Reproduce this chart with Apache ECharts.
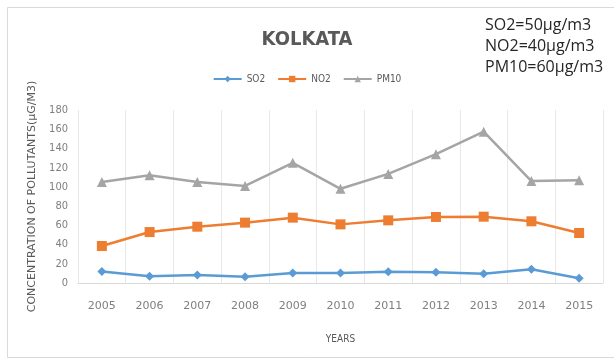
<!DOCTYPE html>
<html>
<head>
<meta charset="utf-8">
<script src="https://cdn.jsdelivr.net/npm/echarts@6/dist/echarts.min.js"></script>
<style>
  html, body { margin: 0; padding: 0; background: #fff; }
  #chart { width: 614px; height: 362px; }
</style>
</head>
<body>
<div id="chart"></div>
<script>
const years = ['2005', '2006', '2007', '2008', '2009', '2010', '2011', '2012', '2013', '2014', '2015']
const so2 = [12, 7, 8.3, 6.6, 10.4, 10.4, 11.8, 11.1, 9.7, 14.2, 5]
const no2 = [38.5, 53, 58.6, 62.8, 68, 61, 65.2, 68.7, 69, 64.2, 52]
const pm10 = [105, 112, 105, 101, 125, 98, 113.5, 134, 157.5, 106, 107]
const limits = ['SO2=50µg/m3', 'NO2=40µg/m3', 'PM10=60µg/m3']

const chart = echarts.init(document.getElementById('chart'))
chart.setOption({
  backgroundColor: '#ffffff',
  animation: false,
  title: {
    text: 'KOLKATA',
    left: 'center',
    top: 25,
    textStyle: {
      color: '#595959',
      fontSize: 20,
      fontWeight: 'bold',
      fontFamily: 'DejaVu Sans Condensed, DejaVu Sans'
    }
  },
  graphic: [
    {
      type: 'rect',
      shape: { x: 7.5, y: 7.5, width: 640, height: 350 },
      style: { fill: 'none', stroke: '#d9d9d9', lineWidth: 1 }
    },
    {
      type: 'text',
      left: 485,
      top: 15,
      style: {
        text: limits.join('\n'),
        fill: '#262626',
        fontSize: 16,
        lineHeight: 21,
        fontFamily: 'Open Sans'
      }
    }
  ],
  legend: {
    top: 69,
    left: 'center',
    itemWidth: 28,
    itemHeight: 8,
    itemGap: 12,
    textStyle: {
      color: '#595959',
      fontSize: 10,
      fontFamily: 'DejaVu Sans Condensed, DejaVu Sans'
    },
    data: ['SO2', 'NO2', 'PM10']
  },
  grid: {
    left: 78,
    right: 11,
    top: 110,
    bottom: 79
  },
  xAxis: {
    type: 'category',
    data: years,
    boundaryGap: true,
    name: 'YEARS',
    nameLocation: 'middle',
    nameGap: 51,
    nameTextStyle: {
      color: '#595959',
      fontSize: 10,
      fontFamily: 'DejaVu Sans Condensed, DejaVu Sans'
    },
    axisLine: { lineStyle: { color: '#d9d9d9' } },
    axisTick: { show: false },
    axisLabel: {
      interval: 0,
      margin: 18,
      color: '#7f7f7f',
      fontSize: 11,
      fontFamily: 'DejaVu Sans'
    },
    splitLine: {
      show: true,
      interval: 0,
      lineStyle: { color: '#e8e8e8' }
    }
  },
  yAxis: {
    type: 'value',
    min: 0,
    max: 180,
    interval: 20,
    name: 'CONCENTRATION OF POLLUTANTS(µG/M3)',
    nameLocation: 'middle',
    nameGap: 40,
    nameRotate: 90,
    nameTextStyle: {
      color: '#595959',
      fontSize: 11,
      fontFamily: 'DejaVu Sans'
    },
    axisLine: { show: false },
    axisTick: { show: false },
    splitLine: { show: false },
    axisLabel: {
      margin: 10,
      color: '#7f7f7f',
      fontSize: 11,
      fontFamily: 'DejaVu Sans Condensed, DejaVu Sans'
    }
  },
  series: [
    {
      name: 'SO2',
      type: 'line',
      data: so2,
      symbol: 'diamond',
      symbolSize: 9,
      itemStyle: { color: '#5b9bd5' },
      lineStyle: { width: 2.5, color: '#5b9bd5' }
    },
    {
      name: 'NO2',
      type: 'line',
      data: no2,
      symbol: 'rect',
      symbolSize: 10,
      itemStyle: { color: '#ed7d31' },
      lineStyle: { width: 2.5, color: '#ed7d31' }
    },
    {
      name: 'PM10',
      type: 'line',
      data: pm10,
      symbol: 'triangle',
      symbolSize: 10,
      itemStyle: { color: '#a5a5a5' },
      lineStyle: { width: 2.5, color: '#a5a5a5' }
    }
  ]
})
</script>
</body>
</html>
